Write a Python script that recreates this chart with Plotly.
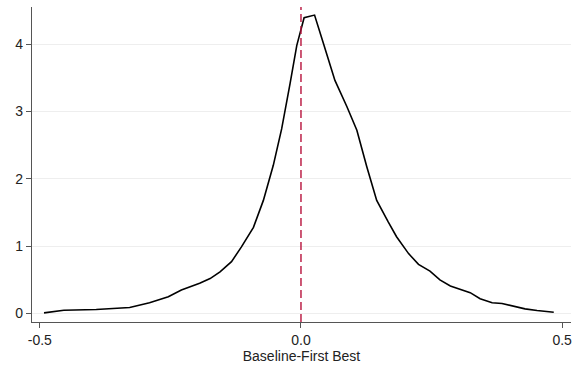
import plotly.graph_objects as go

# Kernel density of the difference (Baseline - First Best)
diff = [-0.492, -0.454, -0.392, -0.328, -0.290, -0.254, -0.229, -0.194, -0.174,
        -0.155, -0.133, -0.114, -0.091, -0.072, -0.053, -0.037, -0.021, -0.008,
        0.006, 0.026, 0.043, 0.065, 0.088, 0.107, 0.126, 0.145, 0.167, 0.183,
        0.206, 0.225, 0.247, 0.266, 0.286, 0.324, 0.343, 0.366, 0.385, 0.429,
        0.452, 0.484]
density = [0.01, 0.05, 0.06, 0.09, 0.16, 0.25, 0.35, 0.45, 0.52,
           0.62, 0.77, 0.99, 1.28, 1.68, 2.20, 2.74, 3.41, 3.98,
           4.39, 4.43, 4.01, 3.46, 3.07, 2.72, 2.18, 1.68, 1.36, 1.14,
           0.89, 0.73, 0.63, 0.50, 0.41, 0.31, 0.22, 0.16, 0.15, 0.07,
           0.045, 0.02]

x_ticks = [-0.5, 0.0, 0.5]
x_tick_text = ["-0.5", "0.0", "0.5"]
y_ticks = [0, 1, 2, 3, 4]
ref_x = 0.0

fig = go.Figure()
fig.add_trace(go.Scatter(x=diff, y=density, mode="lines",
                         line=dict(color="black", width=1.6),
                         showlegend=False, hoverinfo="skip"))

fig.add_shape(type="line", xref="x", yref="paper", x0=ref_x, x1=ref_x,
              y0=0, y1=1,
              line=dict(color="#b8123c", width=1.4, dash="8px,4px"))

axis_font = dict(family="Liberation Sans, Arial, sans-serif", size=14, color="#222")

fig.update_layout(
    width=578, height=368,
    margin=dict(l=32, r=7, t=7, b=46),
    paper_bgcolor="white", plot_bgcolor="white",
    font=axis_font,
    xaxis=dict(range=[-0.515, 0.517], tickvals=x_ticks, ticktext=x_tick_text,
               showgrid=False, zeroline=False, showline=True,
               linecolor="#555", linewidth=1.2, ticks="outside",
               ticklen=5, tickcolor="#555", tickfont=axis_font,
               title=dict(text="Baseline-First Best", font=axis_font, standoff=2)),
    yaxis=dict(range=[-0.125, 4.55], tickvals=y_ticks,
               showgrid=True, gridcolor="#eeeeee", gridwidth=1,
               zeroline=False, showline=True,
               linecolor="#555", linewidth=1.2, ticks="outside",
               ticklen=5, tickcolor="#555", tickfont=axis_font),
)

fig.write_html("out.html")
